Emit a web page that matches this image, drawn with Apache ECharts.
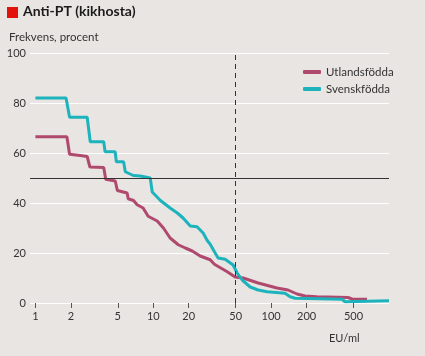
<!DOCTYPE html>
<html>
<head>
<meta charset="utf-8">
<script src="https://cdn.jsdelivr.net/npm/echarts@6/dist/echarts.min.js"></script>
<style>
html,body{margin:0;padding:0;background:#e9e5e2;}
#chart{width:425px;height:356px;}
</style>
</head>
<body>
<div id="chart"></div>
<script>
var titleText = 'Anti-PT (kikhosta)';
var yAxisTitle = 'Frekvens, procent';
var xAxisTitle = 'EU/ml';
var seriesNames = ['Utlandsfödda', 'Svenskfödda'];
var xTicks = [1, 2, 5, 10, 20, 50, 100, 200, 500];
var refLineY = 50;
var refLineX = 50;

var utlandsfodda = [
  [1,66.5],[1.85,66.5],[1.95,59.5],[2.4,59],[2.75,58.6],[2.9,54.4],[3.8,54.2],[3.95,49.5],
  [4.76,48.8],[4.96,45],[6.0,44],[6.13,41.7],[6.8,41],[7.3,39.3],[8.2,38],[9.05,34.7],
  [10.8,32.8],[12.2,30],[13.9,26],[16.3,23.3],[18.7,22],[21.4,20.8],[25,18.8],[30.4,17.3],
  [33,15.5],[42.4,12.5],[49.5,10.4],[57.9,10],[77.6,8],[112,6],[139,5.2],[166,3.6],
  [194,2.8],[245,2.5],[449,2.2],[486,1.6],[651,1.5]
];
var svenskfodda = [
  [1,82],[1.82,82],[1.95,74.3],[2.75,74.3],[2.92,64.5],[3.8,64.5],[3.9,60.5],[4.75,60.5],
  [4.86,56.5],[5.6,56.5],[5.79,52.5],[6.77,51],[7.76,50.8],[9.43,50],[9.8,44.4],[11.5,41],
  [13.9,38],[16,36],[17.9,34],[20.6,30.8],[23.5,30.5],[26.5,28],[28.7,25],[30.4,23.5],
  [33.5,20],[35.5,18],[40.7,17.5],[47.6,15.2],[51.5,12],[56.8,9.2],[66.4,6.4],[77.6,5.2],
  [92.5,4.5],[131,3.9],[145,2.5],[160,1.9],[400,1.5],[424,0.5],[1000,0.9]
];

var FONT = 'Lato';
var chart = echarts.init(document.getElementById('chart'), null, {renderer: 'canvas'});
chart.setOption({
  backgroundColor: '#e9e5e2',
  animation: false,
  textStyle: {fontFamily: FONT},
  grid: {left: 30, right: 36, top: 53, bottom: 53, containLabel: false},
  graphic: [
    {type: 'rect', left: 7, top: 7, shape: {width: 11, height: 11}, style: {fill: '#e3120b'}},
    {type: 'text', left: 23, top: 4, style: {text: titleText, font: 'bold 14px ' + FONT, fill: '#1a1a1a'}},
    {type: 'text', left: 9, top: 31, style: {text: yAxisTitle, font: '11.5px ' + FONT, fill: '#333'}},
    {type: 'text', left: 329, top: 333, style: {text: xAxisTitle, font: '11px ' + FONT, fill: '#333'}}
  ],
  legend: {
    orient: 'vertical', left: 298, top: 61, itemGap: 5,
    itemWidth: 18, itemHeight: 4, icon: 'roundRect',
    textStyle: {fontSize: 11.5, color: '#333', fontFamily: FONT},
    data: seriesNames
  },
  xAxis: {
    type: 'log', logBase: 10, min: 0.9, max: 1000,
    axisLine: {show: false},
    splitLine: {show: false},
    minorTick: {show: false},
    axisTick: {show: true, length: 5, lineStyle: {color: '#555', width: 1}, customValues: xTicks},
    axisLabel: {color: '#333', fontSize: 11, margin: 8, customValues: xTicks, formatter: function (v) { return String(v); }}
  },
  yAxis: {
    type: 'value', min: 0, max: 100, interval: 20,
    axisLine: {show: false}, axisTick: {show: false},
    splitLine: {lineStyle: {color: '#ffffff', width: 1}},
    axisLabel: {color: '#333', fontSize: 11, margin: 4}
  },
  series: [
    {
      name: seriesNames[0], type: 'line', data: utlandsfodda, showSymbol: false, z: 3,
      lineStyle: {color: '#b0496e', width: 3}, itemStyle: {color: '#b0496e'},
      markLine: {
        silent: true, symbol: 'none', label: {show: false},
        data: [
          {yAxis: refLineY, lineStyle: {color: '#333', width: 1, type: 'solid'}},
          {xAxis: refLineX, lineStyle: {color: '#333', width: 1, type: [5, 4]}}
        ]
      }
    },
    {
      name: seriesNames[1], type: 'line', data: svenskfodda, showSymbol: false, z: 4,
      lineStyle: {color: '#1db3bd', width: 3}, itemStyle: {color: '#1db3bd'}
    }
  ]
});
</script>
</body>
</html>
